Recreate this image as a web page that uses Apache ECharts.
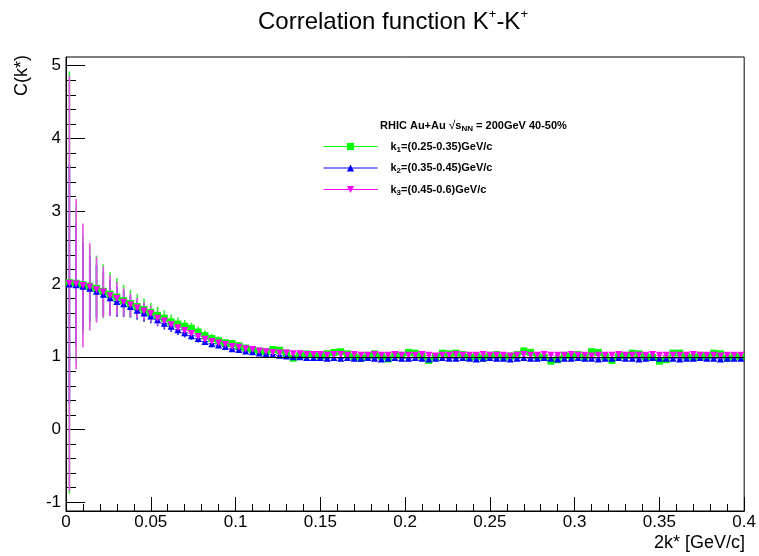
<!DOCTYPE html>
<html><head><meta charset="utf-8">
<script src="https://cdn.jsdelivr.net/npm/echarts@6/dist/echarts.min.js"></script>
<style>html,body{margin:0;padding:0;background:#fff}#c{width:759px;height:556px}</style>
</head><body><div id="c"></div>
<script>
// ---- data ----
const xCenters = [
0.002,0.006,0.010,0.014,0.018,0.022,0.026,0.030,0.034,0.038,
0.042,0.046,0.050,0.054,0.058,0.062,0.066,0.070,0.074,0.078,
0.082,0.086,0.090,0.094,0.098,0.102,0.106,0.110,0.114,0.118,
0.122,0.126,0.130,0.134,0.138,0.142,0.146,0.150,0.154,0.158,
0.162,0.166,0.170,0.174,0.178,0.182,0.186,0.190,0.194,0.198,
0.202,0.206,0.210,0.214,0.218,0.222,0.226,0.230,0.234,0.238,
0.242,0.246,0.250,0.254,0.258,0.262,0.266,0.270,0.274,0.278,
0.282,0.286,0.290,0.294,0.298,0.302,0.306,0.310,0.314,0.318,
0.322,0.326,0.330,0.334,0.338,0.342,0.346,0.350,0.354,0.358,
0.362,0.366,0.370,0.374,0.378,0.382,0.386,0.390,0.394,0.398];

const k1Values = [
2.02,2.01,1.99,1.97,1.94,1.90,1.86,1.82,1.77,1.73,
1.69,1.65,1.61,1.57,1.53,1.48,1.45,1.42,1.39,1.34,
1.29,1.25,1.22,1.19,1.18,1.15,1.12,1.10,1.08,1.07,
1.10,1.09,1.05,0.98,1.02,1.04,1.03,1.01,1.04,1.06,
1.07,1.04,1.00,0.98,1.02,1.04,1.01,0.97,1.03,1.02,
1.06,1.05,1.01,0.95,1.00,1.05,1.04,1.05,1.03,0.99,
1.01,0.98,1.02,1.03,0.99,1.01,1.03,1.08,1.06,1.01,
0.99,0.94,0.96,1.02,1.01,1.03,0.99,1.07,1.06,1.00,
0.95,1.01,1.02,1.05,1.04,1.00,0.99,0.94,0.96,1.05,
1.05,1.01,0.99,1.02,1.00,1.05,1.04,0.98,1.01,1.00];
const k1Errors = [
2.90,1.10,0.68,0.56,0.45,0.37,0.30,0.26,0.22,0.19,
0.17,0.15,0.13,0.12,0.11,0.10,0.09,0.085,0.08,0.075,
0.07,0.065,0.06,0.055,0.05,0.05,0.045,0.045,0.04,0.04,
0.04,0.035,0.035,0.035,0.035,0.03,0.03,0.03,0.03,0.03,
0.03,0.03,0.03,0.03,0.03,0.03,0.03,0.03,0.03,0.03,
0.03,0.03,0.03,0.03,0.03,0.03,0.03,0.03,0.03,0.03,
0.03,0.03,0.03,0.03,0.03,0.03,0.03,0.03,0.03,0.03,
0.03,0.03,0.03,0.03,0.03,0.03,0.03,0.03,0.03,0.03,
0.03,0.03,0.03,0.03,0.03,0.03,0.03,0.03,0.03,0.03,
0.03,0.03,0.03,0.03,0.03,0.03,0.03,0.03,0.03,0.03];

const k2Values = [
2.00,1.99,1.97,1.94,1.90,1.86,1.81,1.76,1.73,1.69,
1.64,1.60,1.56,1.51,1.46,1.42,1.37,1.33,1.29,1.25,
1.21,1.18,1.16,1.14,1.11,1.10,1.08,1.07,1.05,1.04,
1.03,1.02,1.01,1.00,1.00,0.99,0.99,0.99,0.98,0.99,
0.98,0.99,0.98,0.98,0.99,0.98,0.97,0.98,0.99,0.98,
0.98,0.99,0.98,0.97,0.98,0.99,0.98,0.98,0.99,0.98,
0.97,0.98,0.99,0.98,0.98,0.97,0.98,0.99,0.98,0.98,
0.99,0.98,0.97,0.98,0.98,0.99,0.98,0.98,0.97,0.98,
0.98,0.99,0.98,0.98,0.97,0.98,0.99,0.98,0.98,0.98,
0.97,0.98,0.98,0.99,0.98,0.98,0.97,0.98,0.98,0.98];
const k2Errors = [
1.64,0.85,0.60,0.45,0.36,0.30,0.25,0.21,0.18,0.15,
0.13,0.12,0.10,0.09,0.085,0.08,0.07,0.065,0.06,0.055,
0.05,0.05,0.045,0.045,0.04,0.04,0.035,0.035,0.03,0.03,
0.03,0.03,0.03,0.03,0.03,0.025,0.025,0.025,0.025,0.025,
0.025,0.025,0.025,0.025,0.025,0.025,0.025,0.025,0.025,0.025,
0.025,0.025,0.025,0.025,0.025,0.025,0.025,0.025,0.025,0.025,
0.025,0.025,0.025,0.025,0.025,0.025,0.025,0.025,0.025,0.025,
0.025,0.025,0.025,0.025,0.025,0.025,0.025,0.025,0.025,0.025,
0.025,0.025,0.025,0.025,0.025,0.025,0.025,0.025,0.025,0.025,
0.025,0.025,0.025,0.025,0.025,0.025,0.025,0.025,0.025,0.025];

const k3Values = [
2.01,2.00,1.98,1.96,1.92,1.89,1.84,1.80,1.75,1.71,
1.67,1.63,1.59,1.53,1.49,1.44,1.40,1.36,1.32,1.28,
1.24,1.21,1.19,1.17,1.14,1.13,1.11,1.10,1.08,1.07,
1.06,1.05,1.05,1.04,1.04,1.03,1.03,1.03,1.02,1.03,
1.03,1.02,1.03,1.02,1.02,1.03,1.02,1.02,1.03,1.02,
1.02,1.02,1.03,1.02,1.01,1.02,1.02,1.03,1.02,1.02,
1.02,1.03,1.02,1.02,1.02,1.01,1.02,1.03,1.02,1.02,
1.03,1.02,1.02,1.02,1.03,1.02,1.02,1.01,1.02,1.02,
1.02,1.03,1.02,1.02,1.02,1.02,1.03,1.02,1.02,1.02,
1.02,1.02,1.03,1.02,1.02,1.02,1.01,1.02,1.02,1.02];
const k3Errors = [
2.85,1.17,0.85,0.60,0.45,0.35,0.28,0.23,0.19,0.16,
0.14,0.12,0.11,0.10,0.09,0.08,0.075,0.07,0.065,0.06,
0.055,0.05,0.05,0.045,0.045,0.04,0.04,0.035,0.035,0.035,
0.03,0.03,0.03,0.03,0.03,0.03,0.03,0.03,0.03,0.03,
0.03,0.03,0.03,0.03,0.03,0.03,0.03,0.03,0.03,0.03,
0.03,0.03,0.03,0.03,0.03,0.03,0.03,0.03,0.03,0.03,
0.03,0.03,0.03,0.03,0.03,0.03,0.03,0.03,0.03,0.03,
0.03,0.03,0.03,0.03,0.03,0.03,0.03,0.03,0.03,0.03,
0.03,0.03,0.03,0.03,0.03,0.03,0.03,0.03,0.03,0.03,
0.03,0.03,0.03,0.03,0.03,0.03,0.03,0.03,0.03,0.03];

const binHalfWidth = 0.002;
const refLine = 1;
const yMajorTicks = [-1,0,1,2,3,4,5];
const yMinorTicks = [-0.8,-0.6,-0.4,-0.2,0.2,0.4,0.6,0.8,1.2,1.4,1.6,1.8,2.2,2.4,2.6,2.8,3.2,3.4,3.6,3.8,4.2,4.4,4.6,4.8];
const seriesNames = ['k1','k2','k3'];
const legendLabels = {
  k1: '{t|k}{s|1}{t|=(0.25-0.35)GeV/c}',
  k2: '{t|k}{s|2}{t|=(0.35-0.45)GeV/c}',
  k3: '{t|k}{s|3}{t|=(0.45-0.6)GeV/c}'
};

// ---- chart ----
const FONT = '"Liberation Sans", Arial, Helvetica, sans-serif';
function errRender(color){
  return function(params, api){
    const x = api.value(0), y = api.value(1), e = api.value(2);
    const t = api.coord([x, y + e]), b = api.coord([x, y - e]);
    const l = api.coord([x - binHalfWidth, y]), r = api.coord([x + binHalfWidth, y]);
    return {type:'group', children:[
      {type:'line', shape:{x1:t[0],y1:t[1],x2:b[0],y2:b[1]}, style:{stroke:color,lineWidth:1.6}},
      {type:'line', shape:{x1:l[0],y1:l[1],x2:r[0],y2:r[1]}, style:{stroke:color,lineWidth:1}}
    ]};
  };
}
function errData(vals, errs){ return xCenters.map((x,i)=>[x, vals[i], errs[i]]); }
function ptData(vals){ return xCenters.map((x,i)=>[x, vals[i]]); }

const defs = [
  {name:'k1', vals:k1Values, errs:k1Errors, color:'#00ff00', bar:'#33ee33', symbol:'rect', size:7, rot:0},
  {name:'k2', vals:k2Values, errs:k2Errors, color:'#0000ff', bar:'#2020e0', symbol:'triangle', size:7, rot:0},
  {name:'k3', vals:k3Values, errs:k3Errors, color:'#ff00ff', bar:'#e850e8', symbol:'triangle', size:7, rot:180}
];
const series = [];
defs.forEach((d, idx) => {
  series.push({
    type:'custom', name:d.name + ' err', renderItem: errRender(d.bar),
    data: errData(d.vals, d.errs), encode:{x:0, y:1}, clip:true, silent:true, z:2
  });
  const s = {
    type:'line', name:d.name, data: ptData(d.vals), symbol:d.symbol, symbolSize:d.size, symbolRotate:d.rot,
    showSymbol:true, lineStyle:{width:0, opacity:0}, itemStyle:{color:d.color}, silent:true, z:2
  };
  if (idx === 0) {
    s.markLine = {silent:true, symbol:'none', label:{show:false}, lineStyle:{color:'#000', width:1, type:'solid'},
      data:[{yAxis: refLine}], animation:false};
  }
  series.push(s);
});

const chart = echarts.init(document.getElementById('c'), null, {renderer:'canvas'});
chart.setOption({
  animation:false,
  backgroundColor:'#fff',
  title:[{
    text:'{a|Correlation function K}{p|+}{a|-K}{p|+}',
    left:253, top:3,
    textStyle:{fontWeight:'normal', rich:{
      a:{fontFamily:FONT, fontWeight:'normal', fontSize:24, color:'#000', lineHeight:28},
      p:{fontFamily:FONT, fontWeight:'normal', fontSize:13, color:'#000', lineHeight:14, verticalAlign:'top'}
    }}
  }],
  grid:{left:66, right:13, top:57, bottom:45, show:true, borderColor:'#000', borderWidth:1, containLabel:false},
  xAxis:{
    type:'value', min:0, max:0.4, interval:0.05,
    axisLine:{onZero:false, lineStyle:{color:'#000', width:1}},
    axisTick:{inside:true, length:14, lineStyle:{color:'#000'}},
    minorTick:{show:true, splitNumber:5, length:7, lineStyle:{color:'#000'}},
    splitLine:{show:false},
    axisLabel:{color:'#000', fontSize:17, fontFamily:FONT, margin:3}
  },
  yAxis:[{
    type:'value', min:-1.12, max:5.12,
    axisLine:{show:true, onZero:false, lineStyle:{color:'#000', width:1}},
    axisTick:{inside:true, length:19, customValues:yMajorTicks, lineStyle:{color:'#000'}},
    axisLabel:{color:'#000', fontSize:17, fontFamily:FONT, margin:5, customValues:yMajorTicks},
    splitLine:{show:false}
  },{
    type:'value', min:-1.12, max:5.12, position:'left', offset:0,
    axisLine:{show:false, onZero:false},
    axisTick:{show:true, inside:true, length:10, customValues:yMinorTicks, lineStyle:{color:'#000'}},
    axisLabel:{show:false},
    splitLine:{show:false}
  }],
  legend:{
    data:seriesNames, orient:'vertical', left:318, top:136,
    itemWidth:54, itemHeight:9, itemGap:9, selectedMode:false,
    lineStyle:{width:1, opacity:1},
    formatter: name => legendLabels[name],
    textStyle:{padding:[0,0,0,8], rich:{
      t:{fontFamily:FONT, fontWeight:'bold', fontSize:11, lineHeight:14, color:'#000'},
      s:{fontFamily:FONT, fontWeight:'bold', fontSize:8, lineHeight:14, color:'#000', verticalAlign:'bottom'}
    }}
  },
  graphic:[
    {type:'text', x:380, y:126, silent:true, style:{
      text:'{b|RHIC Au+Au }{r|√}{b|s}{n|NN}{b| = 200GeV 40-50%}',
      verticalAlign:'middle', align:'left',
      rich:{
        b:{fontFamily:FONT, fontWeight:'bold', fontSize:11, lineHeight:14, fill:'#000'},
        r:{fontFamily:FONT, fontSize:12, lineHeight:14, fill:'#000'},
        n:{fontFamily:FONT, fontWeight:'bold', fontSize:8, lineHeight:14, fill:'#000', verticalAlign:'bottom'}
      }}},
    {type:'text', x:745, y:543, silent:true, style:{
      text:'2k* [GeV/c]', font:'18px ' + FONT, fill:'#000', align:'right', verticalAlign:'middle'}},
    {type:'text', x:22, y:55, rotation:Math.PI/2, silent:true, style:{
      text:'C(k*)', font:'18px ' + FONT, fill:'#000', align:'right', verticalAlign:'middle'}}
  ],
  series: series
});
</script>
</body></html>
